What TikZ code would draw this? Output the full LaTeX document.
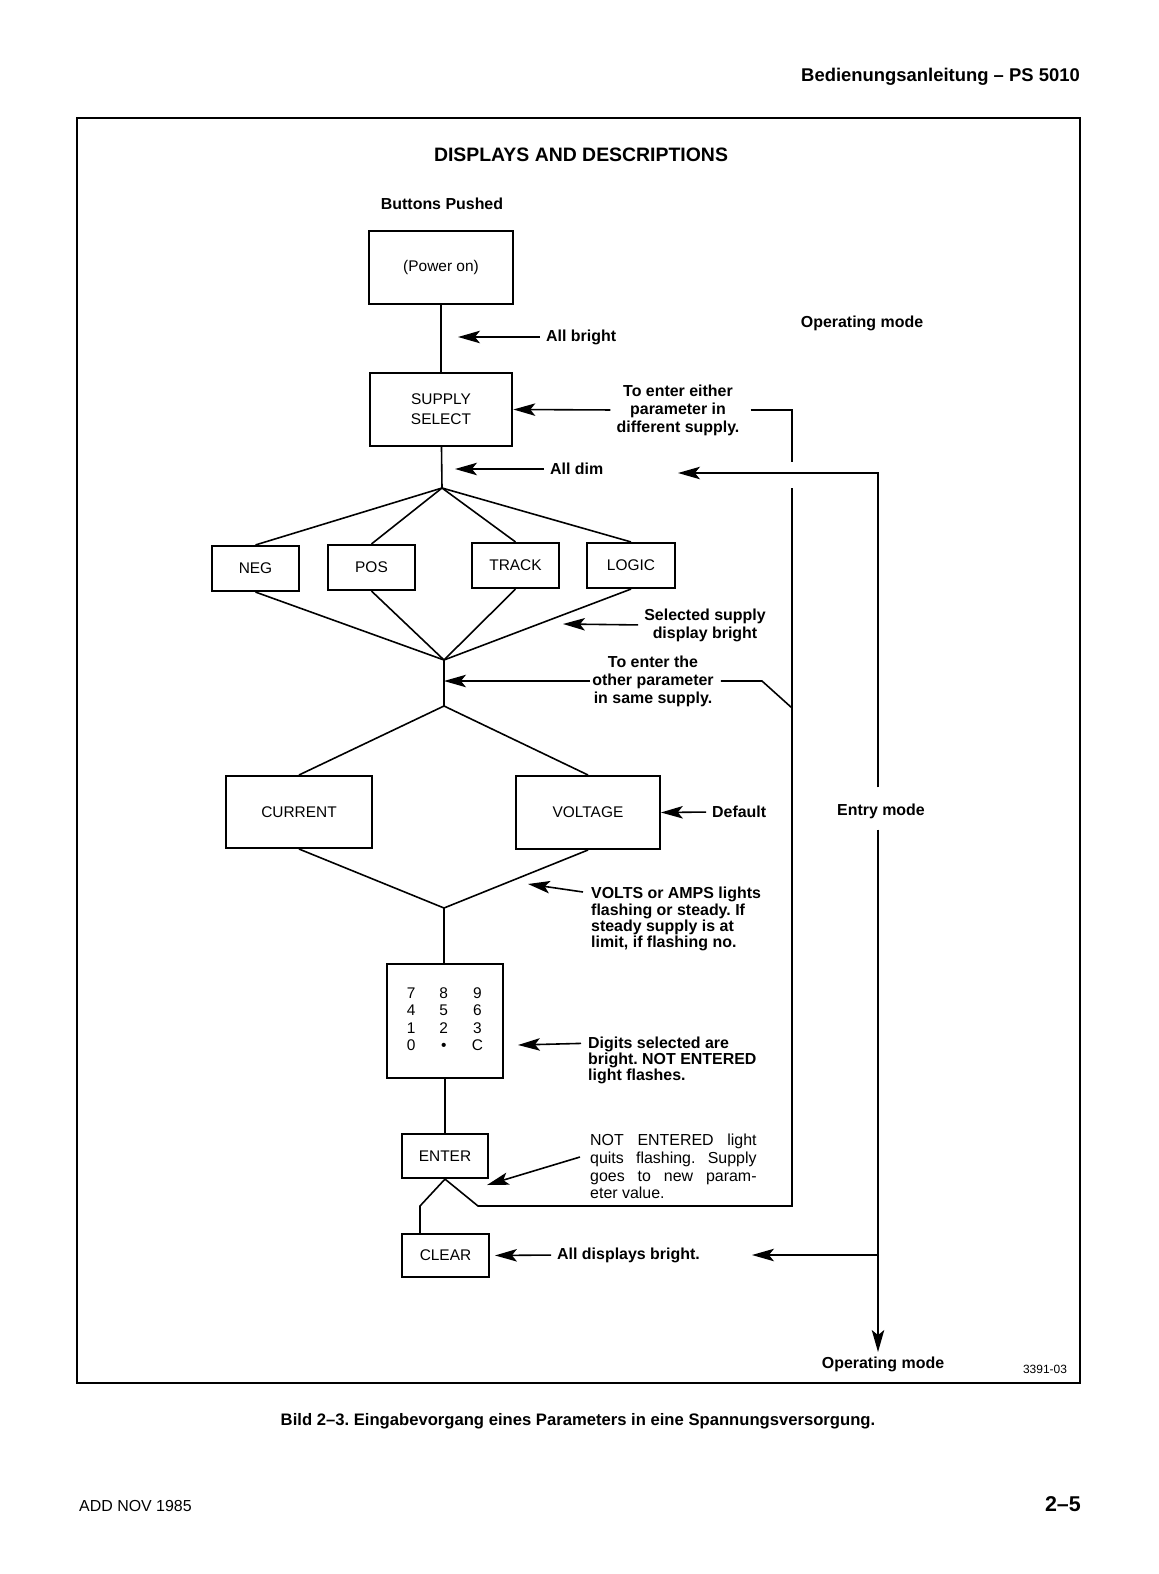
\documentclass[tikz,border=0pt]{standalone}
\usepackage{fontspec}
\setmainfont{Liberation Sans}
\usetikzlibrary{arrows.meta,calc}
\frenchspacing

\begin{document}
\begin{tikzpicture}[x=1bp, y=-1bp, box/.style={draw, line width=2.3pt, inner sep=0pt, align=center, font=\fontsize{15.5}{20}\selectfont}, note/.style={font=\bfseries\fontsize{16}{18}\selectfont, align=center, inner sep=1pt}, plain/.style={font=\fontsize{16}{17.7}\selectfont, align=left, inner sep=0pt}, wire/.style={line width=1.6pt}, pointer/.style={wire, -{Stealth[length=22pt,width=12.5pt,inset=5pt]}, shorten <=5pt}]
\useasboundingbox (0,0) rectangle (1158,1574);
\draw[line width=1.6pt] (77,118) rectangle (1080,1383);

% page texts
\node[font=\bfseries\fontsize{18.5}{22}\selectfont, anchor=east, inner sep=0pt] (head) at (1080,77) {Bedienungsanleitung -- PS 5010};
\node[font=\bfseries\fontsize{19.5}{22}\selectfont] (title) at (581,155) {DISPLAYS AND DESCRIPTIONS};
\node[font=\bfseries\fontsize{16.7}{20}\selectfont] (caption) at (578,1421) {Bild 2--3. Eingabevorgang eines Parameters in eine Spannungsversorgung.};
\node[font=\fontsize{16}{19}\selectfont, anchor=west, inner sep=0pt] (date) at (79,1506) {ADD NOV 1985};
\node[font=\bfseries\fontsize{21.5}{25}\selectfont, anchor=east, inner sep=0pt] (page) at (1081,1504) {2--5};
\node[font=\fontsize{12}{14}\selectfont] (figno) at (1045,1369) {3391-03};

% buttons
\node[note] (pushed) at (442,204) {Buttons Pushed};
\node[box, minimum width=144pt, minimum height=73pt] (power) at (441,267.5) {(Power on)};
\node[box, minimum width=143pt, minimum height=73pt] (supply) at (441,409.5) {SUPPLY\\SELECT};
\node[box, minimum width=87pt, minimum height=45pt] (neg) at (255.5,568.5) {NEG};
\node[box, minimum width=87pt, minimum height=45pt] (pos) at (371.5,567.5) {POS};
\node[box, minimum width=87pt, minimum height=45pt] (track) at (515.5,565.5) {TRACK};
\node[box, minimum width=88pt, minimum height=45pt] (logic) at (631,565.5) {LOGIC};
\node[box, minimum width=146pt, minimum height=72pt] (current) at (299,812) {CURRENT};
\node[box, minimum width=144pt, minimum height=73pt] (voltage) at (588,812.5) {VOLTAGE};
\node[box, minimum width=116pt, minimum height=114pt, font=\fontsize{15.5}{17.7}\selectfont] (keypad) at (445,1021) {\begin{tabular}{@{}c@{\hspace{24pt}}c@{\hspace{24pt}}c@{}}7&8&9\\4&5&6\\1&2&3\\0&\textbullet&C\end{tabular}};
\node[box, minimum width=86pt, minimum height=44pt] (enter) at (445,1156) {ENTER};
\node[box, minimum width=87pt, minimum height=43pt] (clear) at (445.5,1255.5) {CLEAR};

\coordinate (fanout) at (442,488);
\coordinate (fanin) at (444,660);
\coordinate (split) at (444,706);
\coordinate (merge) at (444,908);
\coordinate (clearknee) at (420,1206);
\draw[wire] (power) -- (supply);
\draw[wire] (supply) -- (fanout);
\foreach \b in {neg,pos,track,logic} \draw[wire] (fanout) -- (\b.north) (\b.south) -- (fanin);
\draw[wire] (fanin) -- (split) -- (current.north) (split) -- (voltage.north);
\draw[wire] (current.south) -- (merge) -- (voltage.south) (merge) -- (merge |- keypad.north);
\draw[wire] (keypad) -- (enter);
\draw[wire] (enter.south) -- (clearknee) -- (clearknee |- clear.north);

% descriptions
\node[note, anchor=west] (bright) at (545,337) {All bright};
\node[note] (either) at (678,410) {To enter either\\parameter in\\different supply.};
\node[note, anchor=west] (dim) at (549,469) {All dim};
\node[note] (selected) at (705,625) {Selected supply\\display bright};
\node[note] (other) at (653,681) {To enter the\\other parameter\\in same supply.};
\node[note, anchor=west] (default) at (711,812) {Default};
\node[note, align=left, anchor=north west, font=\bfseries\fontsize{16}{16.4}\selectfont] (volts) at (590,886) {VOLTS or AMPS lights\\flashing or steady. If\\steady supply is at\\limit, if flashing no.};
\node[note, align=left, anchor=west, font=\bfseries\fontsize{16}{16}\selectfont] (digits) at (587,1060) {Digits selected are\\bright. NOT ENTERED\\light flashes.};
\node[plain, anchor=north west] (quits) at (590,1134) {\makebox[167pt][s]{NOT ENTERED light}\\\makebox[167pt][s]{quits flashing. Supply}\\\makebox[167pt][s]{goes to new param-}\\eter value.};
\node[note, anchor=west] (alldisp) at (556,1255) {All displays bright.};

\coordinate (tipbright) at (458,337);
\coordinate (tipdim) at (455,469);
\coordinate (tipselected) at (563,624);
\coordinate (tipother) at (444,681);
\coordinate (tipvolts) at (528,884);
\coordinate (tipdigits) at (518,1045);
\coordinate (tipquits) at (487,1185);
\draw[pointer] (bright.west) -- (tipbright);
\draw[pointer] (either.west) -- (supply.east);
\draw[pointer] (dim.west) -- (tipdim);
\draw[pointer] (selected.west) -- (tipselected);
\draw[pointer, shorten <=1pt] (other.west) -- (tipother);
\draw[pointer] (default.west) -- (voltage.east);
\draw[pointer, shorten <=0pt] ($(volts.north west)+(-7,6)$) -- (tipvolts);
\draw[pointer, shorten <=0pt] ($(digits.north west)+(-6,8)$) -- (tipdigits);
\draw[pointer, shorten <=0pt] ($(quits.north west)+(-10,23)$) -- (tipquits);
\draw[pointer, shorten >=5pt] (alldisp.west) -- (clear.east);

% entry loop
\coordinate (loopgapN) at (792,462);
\coordinate (loopgapS) at (792,488);
\coordinate (loopknee) at (792,708);
\coordinate (loopfoot) at (792,1206);
\coordinate (enterright) at (478,1206);
\coordinate (otherbend) at (762,681);
\draw[wire] ([xshift=10pt]either.east) -| (loopgapN);
\draw[wire] (enter.south) -- (enterright) -- (loopfoot) -- (loopgapS);
\draw[wire] ([xshift=6pt]other.east) -- (otherbend) -- (loopknee);

% operating mode line
\node[note] (modetop) at (862,323) {Operating mode};
\node[note] (entrymode) at (881,811) {Entry mode};
\node[note] (modebottom) at (883,1364) {Operating mode};
\coordinate (modecorner) at (878,473);
\coordinate (dimtipright) at (678,473);
\coordinate (modeend) at (878,1352);
\coordinate (cleartipright) at (752,1255);
\draw[pointer, shorten <=15pt] (modecorner |- entrymode.north) -- (modecorner) -- (dimtipright);
\draw[pointer, shorten <=10pt] (modecorner |- entrymode.south) -- (modeend);
\draw[pointer, shorten <=0pt] (modecorner |- cleartipright) -- (cleartipright);
\end{tikzpicture}
\end{document}
